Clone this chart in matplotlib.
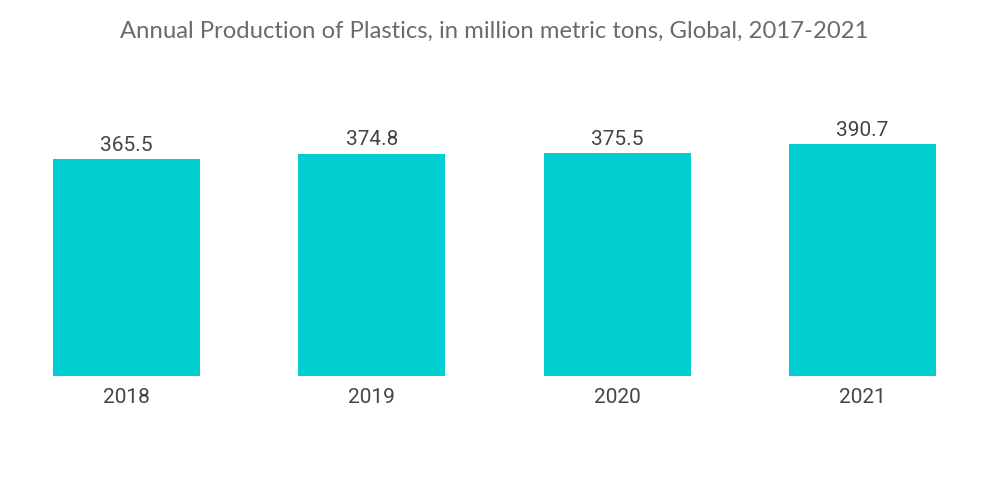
import matplotlib
matplotlib.use("Agg")
import matplotlib.pyplot as plt

# data
years = ["2018", "2019", "2020", "2021"]
production = [365.5, 374.8, 375.5, 390.7]

title = "Annual Production of Plastics, in million metric tons, Global, 2017-2021"

fig = plt.figure(figsize=(10, 5.04), dpi=100)
ax = fig.add_axes([0.004, 0.254, 0.981, 0.53])

x = range(len(years))
ax.bar(x, production, width=0.6, color="#00CED1")

for xi, v in zip(x, production):
    ax.text(xi, v + 7, f"{v}", ha="center", va="bottom",
            fontsize=15, color="#444444", family="Roboto")

ax.set_xlim(-0.5, len(years) - 0.5)
ax.set_ylim(0, 450)
ax.set_xticks(list(x))
ax.set_xticklabels(years, fontsize=15, color="#444444", family="Roboto")
ax.tick_params(axis="x", length=0, pad=9)
ax.set_yticks([])
for s in ax.spines.values():
    s.set_visible(False)

fig.text(0.494, 0.937, title, ha="center", va="center",
         fontsize=17.2, color="#6b6b6b", family="Lato")

fig.savefig("out.png", dpi=100)
